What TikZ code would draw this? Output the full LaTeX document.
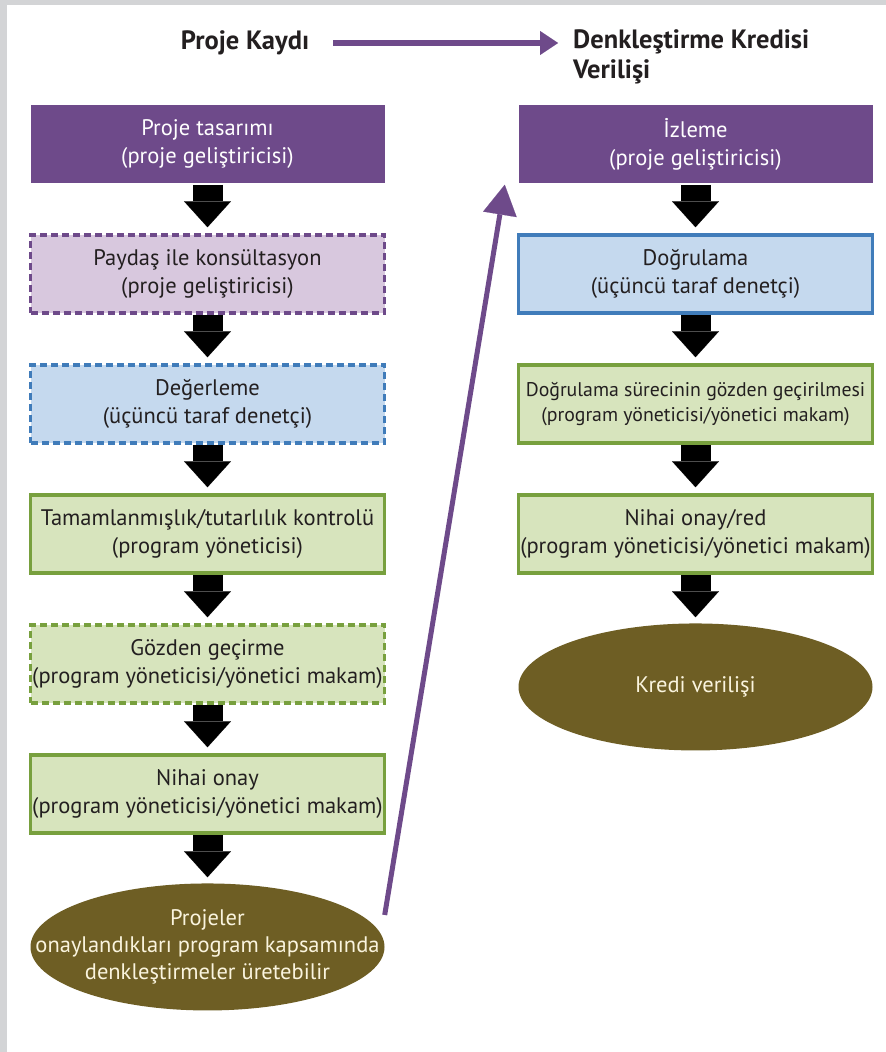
\documentclass[tikz,border=0pt]{standalone}
\usepackage{fontspec}
\setmainfont{PT Sans}
\usetikzlibrary{shapes.geometric,arrows.meta,positioning}

\definecolor{headpurple}{RGB}{110,74,138}
\definecolor{palepurple}{RGB}{216,200,222}
\definecolor{paleblue}{RGB}{197,217,238}
\definecolor{edgeblue}{RGB}{64,124,186}
\definecolor{palegreen}{RGB}{215,228,189}
\definecolor{edgegreen}{RGB}{120,160,62}
\definecolor{olive}{RGB}{110,94,36}
\definecolor{cream}{RGB}{250,244,222}
\definecolor{inkgray}{RGB}{35,31,32}
\definecolor{framegray}{RGB}{211,212,214}

\begin{document}
\begin{tikzpicture}[
    x=1pt, y=-1pt,
    node distance=48.5pt,
    box/.style={rectangle, minimum width=354pt, minimum height=78pt, inner sep=1pt, align=center, text=inkgray, font=\fontsize{22.5}{28}\selectfont, line width=3.5pt},
    head/.style={box, fill=headpurple, text=white},
    dashbox/.style={box, dash pattern=on 7pt off 4pt},
    oval/.style={ellipse, fill=olive, minimum width=354pt, minimum height=127pt, inner sep=0pt, text=cream, align=center, font=\fontsize{22.5}{27}\selectfont},
    oval text/.style={inner sep=0pt, text=cream, align=center, font=\fontsize{22.5}{27}\selectfont},
    flow/.style={line width=30pt, -{Triangle[length=26pt, width=47pt, line width=0.1pt]}, shorten >=6pt},
    link/.style={headpurple, line width=5pt, -{Triangle[length=30pt, width=34pt, line width=0.1pt]}},
    title/.style={font=\bfseries\fontsize{26.5}{30}\selectfont, text=inkgray, inner sep=0pt}
]
    % page and frame
    \useasboundingbox (0,0) rectangle (886,1052);
    \fill[framegray] (0,0) rectangle (886,1052);
    \fill[white] (7,5) rectangle (886,1052);

    % headings
    \node[title] (kayit) at (245,43) {Proje Kaydı};
    \node[title, anchor=west, align=left] (kredi) at (573,57) {Denkleştirme Kredisi\\Verilişi};
    \draw[link, line width=6pt, -{Triangle[length=18pt, width=24pt, line width=0.1pt]}, shorten <=24pt, shorten >=15pt] (kayit.east) -- (kayit.east -| kredi.west);

    % registration steps
    \node[head] (design) at (207.5,144) {Proje tasarımı\\(proje geliştiricisi)};
    \node[dashbox, draw=headpurple, fill=palepurple, below=of design] (consult) {Paydaş ile konsültasyon\\(proje geliştiricisi)};
    \node[dashbox, draw=edgeblue, fill=paleblue, below=of consult] (valid) {Değerleme\\(üçüncü taraf denetçi)};
    \node[box, draw=edgegreen, fill=palegreen, below=of valid] (check) {Tamamlanmışlık/tutarlılık kontrolü\\(program yöneticisi)};
    \node[dashbox, draw=edgegreen, fill=palegreen, below=of check] (review) {Gözden geçirme\\(program yöneticisi/yönetici makam)};
    \node[box, draw=edgegreen, fill=palegreen, below=of review] (approve) {Nihai onay\\(program yöneticisi/yönetici makam)};
    \node[oval, below=of approve] (proj) {};
    \node[oval text] (projtext) at (proj) {Projeler\\onaylandıkları program kapsamında\\denkleştirmeler üretebilir};

    % issuance steps
    \node[head] (monitor) at (695.5,144) {İzleme\\(proje geliştiricisi)};
    \node[box, draw=edgeblue, fill=paleblue, below=of monitor] (verify) {Doğrulama\\(üçüncü taraf denetçi)};
    \node[box, draw=edgegreen, fill=palegreen, below=of verify, font=\fontsize{19.8}{25}\selectfont] (vreview) {Doğrulama sürecinin gözden geçirilmesi\\(program yöneticisi/yönetici makam)};
    \node[box, draw=edgegreen, fill=palegreen, below=of vreview] (final) {Nihai onay/red\\(program yöneticisi/yönetici makam)};
    \node[oval, below=of final] (credit) {Kredi verilişi};

    % block arrows
    \foreach \from/\to in {design/consult, consult/valid, valid/check, check/review, review/approve, approve/proj, monitor/verify, verify/vreview, vreview/final, final/credit}
        \draw[flow] (\from) -- (\to);

    % from approved projects to monitoring
    \coordinate (tail) at ([yshift=32pt]proj.east);
    \draw[link] (tail) -- ([xshift=-12pt]monitor.south west);
\end{tikzpicture}
\end{document}
